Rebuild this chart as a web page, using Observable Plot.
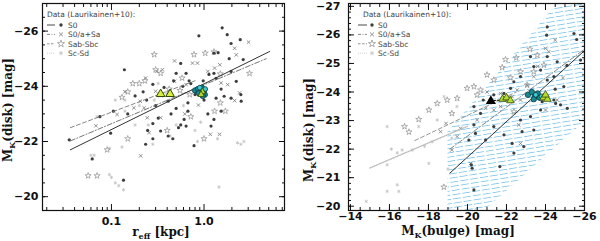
<!DOCTYPE html>
<html><head><meta charset="utf-8">
<script src="https://cdn.jsdelivr.net/npm/d3@7"></script>
<script src="https://cdn.jsdelivr.net/npm/@observablehq/plot@0.6"></script>
<style>
body{margin:0;background:#fff;}
#wrap{display:flex;width:600px;height:241px;overflow:hidden;}
</style></head><body><div id="wrap"></div>
<script>
// ---------- LEFT PANEL DATA: [r_eff (kpc), M_K(disk)] ----------
const s0L = [[0.035,-22.06],[0.062,-21.37],[0.135,-20.6],[0.098,-22.3],[0.138,-24.6],[0.234,-21.9],[0.28,-22.1],[0.246,-22.4],[0.32,-22.85],[0.18,-23.65],[0.22,-23.8],[0.28,-24.07],[0.37,-23.96],[0.41,-23.46],[0.44,-23.0],[0.28,-22.65],[0.56,-24.83],[0.50,-24.47],[0.64,-24.47],[0.69,-24.2],[0.59,-24.0],[0.67,-23.4],[0.67,-23.1],[0.61,-22.8],[0.64,-22.56],[0.78,-21.85],[0.88,-25.83],[1.13,-24.43],[0.98,-24.2],[1.0,-23.5],[1.1,-23.0],[1.28,-25.2],[1.42,-25.22],[1.28,-24.47],[1.35,-24.29],[1.53,-23.9],[1.35,-23.57],[1.28,-22.8],[1.53,-23.1],[1.57,-26.12],[1.78,-25.87],[1.96,-25.55],[2.46,-25.69],[1.96,-24.54],[2.23,-24.18],[1.96,-23.57],[2.52,-23.46],[1.19,-22.56],[0.105,-23.1],[0.15,-23.0],[0.41,-22.2],[0.34,-22.38],[0.075,-22.9],[0.30,-23.3],[0.24,-23.5],[0.50,-23.2],[0.72,-24.1],[0.80,-23.7],[0.53,-22.5],[0.47,-24.2],[1.87,-25.0],[2.65,-24.97],[2.5,-23.7],[1.65,-23.64],[0.56,-22.6],[0.46,-22.1]];
const saL = [[0.068,-22.57],[0.115,-22.98],[0.175,-23.22],[0.234,-24.3],[0.31,-24.54],[0.355,-24.6],[0.48,-24.92],[0.75,-24.84],[0.85,-24.84],[1.1,-24.54],[1.3,-24.66],[1.48,-24.78],[2.14,-25.38],[2.23,-25.14],[3.03,-25.6],[1.53,-24.12],[1.8,-24.06],[2.42,-23.76],[2.14,-23.48],[0.87,-23.32],[0.93,-23.94],[1.17,-22.26],[0.225,-23.22],[0.205,-23.46],[0.244,-22.86],[0.255,-22.32],[0.207,-21.48],[0.34,-22.86],[0.30,-23.82],[0.40,-23.7],[0.48,-24.18],[0.64,-24.06],[1.47,-22.26],[0.14,-23.8],[0.62,-23.0]];
const sbL = [[0.070,-20.76],[0.056,-20.76],[0.15,-22.1],[0.29,-25.15],[0.34,-24.47],[0.15,-23.8],[0.17,-24.1],[0.13,-23.6],[0.2,-24.1],[0.34,-23.7],[0.42,-23.9],[0.55,-23.85],[0.7,-23.7],[0.78,-25.15],[1.03,-25.2],[1.28,-25.25],[1.5,-24.45],[3.1,-24.47],[1.0,-22.1],[1.3,-23.1],[1.7,-23.1],[1.5,-23.4],[0.23,-24.2],[0.09,-21.7],[0.4,-22.4],[0.58,-24.3],[0.3,-24.6],[0.72,-22.9]];
const scL = [[0.060,-21.5],[0.065,-21.5],[0.095,-20.8],[0.10,-20.7],[0.11,-20.5],[0.12,-20.4],[0.135,-20.25],[0.095,-21.75],[0.13,-21.8],[0.14,-23.1],[0.14,-23.5],[0.11,-23.5],[1.4,-22.1],[1.45,-20.35],[2.3,-21.95],[2.7,-22.0],[0.85,-22.0],[0.92,-22.7],[0.8,-22.4],[0.28,-21.9],[0.43,-22.2],[0.4,-23.8],[0.32,-24.1],[0.29,-23.5],[0.2,-23.3],[2.5,-21.9],[0.6,-23.3],[0.5,-22.6],[0.18,-22.6],[0.07,-22.9],[0.25,-22.6]];
const fitSolidL = [[0.036,-21.7],[5.1,-25.26]];
const fitDashDotL = [[0.036,-22.02],[4.7,-25.0]];
const fitDashL = [[0.036,-22.5],[0.8,-24.2]];
const triL = [[0.34,-23.72],[0.43,-23.72]];
const tealL = [[0.80,-23.85],[0.86,-23.9],[0.92,-23.8],[0.95,-23.95],[1.0,-23.85],[0.88,-23.75],[1.02,-23.7],[0.97,-23.65]];
const cyanL = [[0.9,-23.95],[1.03,-23.9]];
const greenL = [[0.96,-23.8],[0.93,-23.7]];

// ---------- RIGHT PANEL DATA: [M_K(bulge), M_K(disk)] ----------
const s0R = [[-24.09,-26.28],[-24.06,-25.99],[-25.46,-26.05],[-25.6,-25.84],[-25.8,-25.12],[-25.1,-24.93],[-24.09,-25.24],[-24.6,-25.06],[-23.23,-25.24],[-23.4,-24.89],[-23.75,-24.77],[-24.09,-24.42],[-24.43,-24.54],[-24.94,-24.19],[-22.72,-24.54],[-22.38,-24.36],[-22.21,-24.13],[-21.87,-23.95],[-21.35,-23.9],[-20.81,-23.72],[-20.33,-23.49],[-20.67,-23.25],[-20.33,-22.85],[-20.41,-22.55],[-20.07,-22.32],[-20.93,-22.32],[-21.35,-22.79],[-21.87,-22.5],[-22.29,-22.2],[-22.38,-21.86],[-22.8,-22.61],[-22.72,-23.02],[-23.23,-23.14],[-23.75,-23.37],[-24.43,-23.72],[-24.52,-23.6],[-24.77,-23.55],[-25.12,-23.43],[-23.83,-23.66],[-23.4,-22.67],[-22.89,-22.09],[-21.66,-21.39],[-20.24,-21.33],[-20.33,-20.57],[-20.2,-21.45],[-24.5,-24.1]];
const saR = [[-24.5,-25.82],[-24.0,-25.53],[-24.17,-25.41],[-23.4,-24.54],[-23.06,-24.24],[-22.55,-24.07],[-22.04,-23.72],[-21.7,-23.49],[-21.35,-23.37],[-20.93,-23.43],[-20.5,-23.02],[-19.64,-22.73],[-19.47,-22.44],[-19.2,-21.97],[-20.16,-21.5],[-22.63,-22.85],[-22.72,-22.2],[-24.0,-23.37],[-24.6,-23.72],[-21.7,-23.95],[-22.29,-23.84],[-18.62,-22.61],[-23.4,-23.95],[-22.72,-23.72],[-24.9,-24.5],[-23.6,-24.9],[-21.0,-24.0],[-18.9,-22.9]];
const sbR = [[-16.77,-22.79],[-17.5,-23.04],[-18.02,-23.37],[-18.45,-23.6],[-18.96,-23.72],[-19.2,-23.25],[-19.47,-23.78],[-19.98,-24.13],[-20.33,-24.19],[-20.67,-24.07],[-21.78,-24.86],[-21.95,-25.14],[-23.06,-24.24],[-21.35,-24.42],[-23.58,-25.29],[-23.92,-24.94],[-23.4,-24.71],[-22.72,-24.71],[-22.2,-24.5],[-18.79,-20.67],[-22.38,-23.31],[-21.0,-24.6],[-22.5,-25.2],[-23.2,-25.5],[-20.5,-23.9],[-17.0,-22.6]];
const scR = [[-14.81,-20.17],[-15.88,-20.52],[-16.4,-20.75],[-16.48,-20.52],[-15.88,-21.45],[-15.88,-22.79],[-17.5,-22.79],[-16.4,-21.87],[-16.65,-21.97],[-17.17,-21.97],[-18.02,-21.5],[-18.19,-22.26],[-19.2,-22.38],[-18.45,-23.02],[-19.46,-23.49],[-18.8,-23.84],[-17.8,-22.1],[-19.0,-21.3],[-16.1,-22.0]];
const fitSolidR = [[-19.1,-21.16],[-26.0,-25.45]];
const fitDashDotR = [[-19.1,-22.0],[-26.0,-25.5]];
const fitDashR = [[-17.3,-22.3],[-22.5,-24.0]];
const fitDotR = [[-15.0,-21.34],[-20.0,-22.8]];
const bandR = [[-19.0,-18.7,-22.6],[-26.0,-22.95,-28.2]]; // [x, lower, upper]
const blackTriR = [[-21.2,-23.68]];
const arrowR = [[-21.35,-23.7],[-21.7,-23.72]];
const tealR = [[-23.1,-23.9],[-23.3,-24.0],[-23.45,-23.85],[-23.6,-23.95],[-23.4,-23.75],[-23.7,-23.8]];
const cyanR = [[-23.5,-23.9],[-23.8,-23.85]];
const greenR = [[-21.8,-23.75],[-22.0,-23.8],[-22.2,-23.7],[-23.9,-23.8],[-24.1,-23.75],[-24.0,-23.9]];

// ---------- TICKS ----------
const xMajorL = [0.1, 1];
const xMajorLabelsL = ["0.1", "1.0"];
const xMinorL = [0.02,0.03,0.04,0.05,0.06,0.07,0.08,0.09,0.2,0.3,0.4,0.5,0.6,0.7,0.8,0.9,2,3,4,5,6,7];
const yMajorL = [-26,-24,-22,-20];
const yMinorL = d3.range(-27,-19.4,0.5);
const xMajorR = [-14,-16,-18,-20,-22,-24,-26];
const xMinorR = d3.range(-26,-13.8,0.5);
const yMajorR = [-27,-26,-25,-24,-23,-22,-21,-20];
const yMinorR = d3.range(-27,-19.8,0.2);
const legendLabels = ["S0","S0/a+Sa","Sab-Sbc","Sc-Sd"];

const X = d => d[0], Y = d => d[1];
const C = {s0:"#3d3d3d", sa:"#858585", sb:"#9a9a9a", sc:"#c6c6c6"};

function boxAxes(xMaj, xMin, yMaj, yMin, xfmt, xPad, yPad) {
  const none = () => "";
  return [
    Plot.axisX(xMaj, {anchor:"bottom", tickSize:0, tickPadding:xPad, tickFormat:xfmt, label:null}),
    Plot.axisY(yMaj, {anchor:"left", tickSize:0, tickPadding:yPad, label:null}),
    Plot.axisX(xMaj, {anchor:"bottom", tickSize:6, dy:-6, tickFormat:none, label:null, stroke:"#111"}),
    Plot.axisX(xMin, {anchor:"bottom", tickSize:3, dy:-3, tickFormat:none, label:null, stroke:"#111"}),
    Plot.axisX(xMaj, {anchor:"top", tickSize:6, dy:6, tickFormat:none, label:null, stroke:"#111"}),
    Plot.axisX(xMin, {anchor:"top", tickSize:3, dy:3, tickFormat:none, label:null, stroke:"#111"}),
    Plot.axisY(yMaj, {anchor:"left", tickSize:6, dx:6, tickFormat:none, label:null, stroke:"#111"}),
    Plot.axisY(yMin, {anchor:"left", tickSize:3, dx:3, tickFormat:none, label:null, stroke:"#111"}),
    Plot.axisY(yMaj, {anchor:"right", tickSize:6, dx:-6, tickFormat:none, label:null, stroke:"#111"}),
    Plot.axisY(yMin, {anchor:"right", tickSize:3, dx:-3, tickFormat:none, label:null, stroke:"#111"}),
    Plot.frame({stroke:"#111", strokeWidth:1.2})
  ];
}

const baseStyle = {fontFamily:"DejaVu Sans", fontSize:"11px", fontWeight:"bold", background:"white", color:"#111"};

const pointMarks = (s0, sa, sb, sc) => [
  Plot.dot(sc, {x:X, y:Y, symbol:"asterisk", r:1.6, stroke:C.sc, strokeWidth:0.9}),
  Plot.dot(sb, {x:X, y:Y, symbol:"star", r:1.9, fill:"none", stroke:C.sb, strokeWidth:0.8}),
  Plot.dot(sa, {x:X, y:Y, symbol:"times", r:1.7, stroke:C.sa, strokeWidth:0.9}),
  Plot.dot(s0, {x:X, y:Y, symbol:"circle", r:1.6, fill:C.s0, stroke:"none"})
];

const left = Plot.plot({
  width:300, height:241, marginLeft:42, marginRight:16, marginTop:3, marginBottom:31,
  x:{type:"log", domain:[0.018,7.4]},
  y:{domain:[-19.5,-27]},
  style:baseStyle,
  marks:[
    ...pointMarks(s0L, saL, sbL, scL),
    Plot.line(fitDashL, {x:X, y:Y, stroke:"#777", strokeWidth:0.9, strokeDasharray:"4,2.5"}),
    Plot.line(fitDashDotL, {x:X, y:Y, stroke:"#666", strokeWidth:0.9, strokeDasharray:"5,2,1,2"}),
    Plot.line(fitSolidL, {x:X, y:Y, stroke:"#333", strokeWidth:1}),
    Plot.dot(triL, {x:X, y:Y, symbol:"triangle", r:3.2, fill:"#d6ee3c", stroke:"#2f4a08", strokeWidth:1}),
    Plot.dot(tealL, {x:X, y:Y, symbol:"circle", r:2.7, fill:"#178a8e", stroke:"#0c3a48", strokeWidth:0.8}),
    Plot.dot(cyanL, {x:X, y:Y, symbol:"circle", r:2.4, fill:"#3fc9cf", stroke:"#0c3a48", strokeWidth:0.8}),
    Plot.dot(greenL, {x:X, y:Y, symbol:"triangle", r:2.4, fill:"#b8dc30", stroke:"#2f4a08", strokeWidth:0.8}),
    ...boxAxes(xMajorL, xMinorL, yMajorL, yMinorL, d => xMajorLabelsL[xMajorL.indexOf(d)], 7, 4)
  ]
});

const right = Plot.plot({
  width:300, height:241, marginLeft:48, marginRight:16, marginTop:3, marginBottom:31,
  x:{domain:[-13.9,-26]},
  y:{domain:[-19.85,-27.1]},
  style:baseStyle,
  marks:[
    Plot.areaY(bandR, {x:d=>d[0], y1:d=>d[1], y2:d=>d[2], fill:"url(#hatchR)", clip:true}),
    ...pointMarks(s0R, saR, sbR, scR),
    Plot.line(fitDotR, {x:X, y:Y, stroke:"#bdbdbd", strokeWidth:1.4, strokeDasharray:"1,1.3"}),
    Plot.line(fitDashR, {x:X, y:Y, stroke:"#888", strokeWidth:0.9, strokeDasharray:"4,2.5"}),
    Plot.line(fitDashDotR, {x:X, y:Y, stroke:"#777", strokeWidth:0.9, strokeDasharray:"5,2,1,2"}),
    Plot.line(fitSolidR, {x:X, y:Y, stroke:"#333", strokeWidth:1}),
    Plot.line(arrowR, {x:X, y:Y, stroke:"#111", strokeWidth:1, strokeDasharray:"2,1.5"}),
    Plot.dot(blackTriR, {x:X, y:Y, symbol:"triangle", r:2.8, fill:"#000", stroke:"#000"}),
    Plot.dot(tealR, {x:X, y:Y, symbol:"circle", r:2.7, fill:"#178a8e", stroke:"#0c3a48", strokeWidth:0.8}),
    Plot.dot(cyanR, {x:X, y:Y, symbol:"circle", r:2.4, fill:"#3fc9cf", stroke:"#0c3a48", strokeWidth:0.8}),
    Plot.dot(greenR, {x:X, y:Y, symbol:"triangle", r:2.8, fill:"#b8dc30", stroke:"#2f4a08", strokeWidth:0.8}),
    ...boxAxes(xMajorR, xMinorR, yMajorR, yMinorR, d3.format(""), 2, 8)
  ]
});

// hatch pattern for the band
{
  const defs = d3.select(right).insert("defs", ":first-child");
  const p = defs.append("pattern").attr("id","hatchR").attr("patternUnits","userSpaceOnUse")
    .attr("width",10).attr("height",4.2).attr("patternTransform","rotate(-9)");
  p.append("line").attr("x1",0).attr("y1",2.1).attr("x2",8).attr("y2",2.1)
    .attr("stroke","#86c9ec").attr("stroke-width",0.9);
}

function addLegend(svg, lx0, lx1, mx, tx, titleX) {
  const g = d3.select(svg).append("g").attr("font-family","DejaVu Sans").attr("font-size",7.5)
    .attr("fill","#444").attr("font-weight","normal").attr("text-anchor","start");
  g.append("text").attr("x", titleX).attr("y", 17).text("Data (Laurikainen+10):");
  const dashes = [null, "3,1.5,1,1.5", "2.5,1.5", "1,1"];
  const strokes = ["#333","#777","#888","#c8c8c8"];
  const syms = [d3.symbolCircle, d3.symbolTimes, d3.symbolStar, d3.symbolAsterisk];
  const sizes = [9, 12, 16, 12];
  legendLabels.forEach((lab, i) => {
    const y = 25 + i * 9.4;
    const ln = g.append("line").attr("x1", lx0).attr("x2", lx1).attr("y1", y).attr("y2", y)
      .attr("stroke", strokes[i]).attr("stroke-width", 0.9);
    if (dashes[i]) ln.attr("stroke-dasharray", dashes[i]);
    const s = g.append("path").attr("d", d3.symbol(syms[i], sizes[i])()).attr("transform", `translate(${mx},${y})`);
    if (i === 0) s.attr("fill", C.s0);
    else if (i === 2) s.attr("fill","none").attr("stroke", C.sb).attr("stroke-width",0.8);
    else s.attr("fill","none").attr("stroke", i===1 ? C.sa : C.sc).attr("stroke-width",0.9);
    g.append("text").attr("x", tx).attr("y", y + 2.7).text(lab);
  });
}
addLegend(left, 47, 55, 61, 68, 47);
addLegend(right, 58, 67, 72, 78, 63);

function label(svg, parts, x, y, rotate) {
  const t = d3.select(svg).append("text")
    .attr("font-family","DejaVu Serif").attr("font-weight","bold").attr("font-size",12)
    .attr("fill","#111").attr("text-anchor","middle")
    .attr("transform", `translate(${x},${y})` + (rotate ? " rotate(-90)" : ""));
  parts.forEach(([s, sub], i) => {
    const ts = t.append("tspan").text(s);
    if (sub) ts.attr("font-size", 8).attr("dy", 3);
    else if (i > 0) ts.attr("dy", -3);
  });
}
label(left, [["M"],["K",1],["(disk) [mag]"]], 12, 110, true);
label(right, [["M"],["K",1],["(disk) [mag]"]], 13, 130, true);
label(left, [["r"],["eff",1],[" [kpc]"]], 161, 236, false);
label(right, [["M"],["K",1],["(bulge) [mag]"]], 158, 235, false);

document.getElementById("wrap").append(left, right);
</script></body></html>
